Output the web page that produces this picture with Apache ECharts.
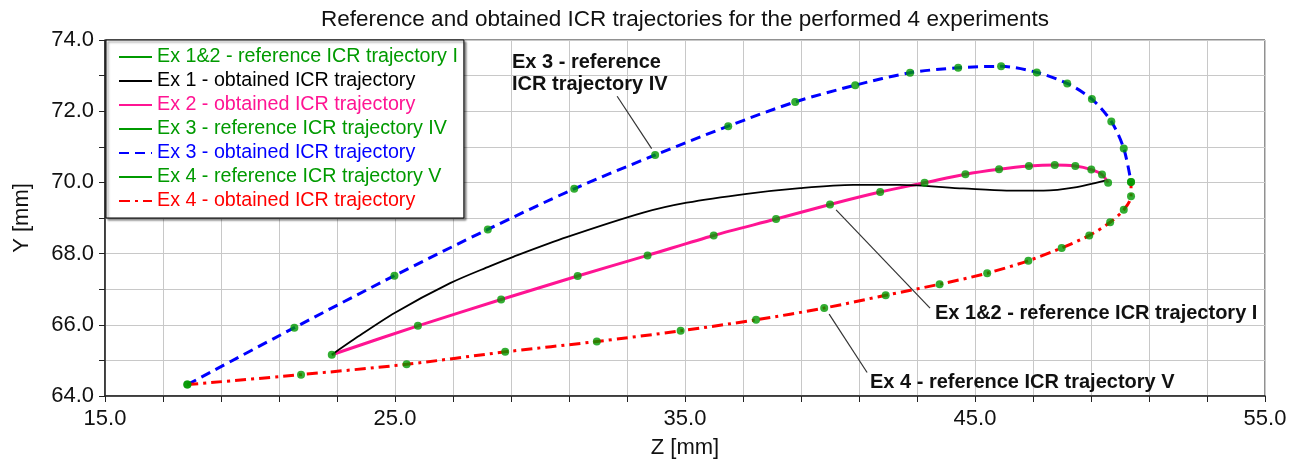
<!DOCTYPE html>
<html>
<head>
<meta charset="utf-8">
<script src="https://cdn.jsdelivr.net/npm/echarts@6/dist/echarts.min.js"></script>
<style>
  html, body { margin: 0; padding: 0; background: #fff; }
  #chart { width: 1298px; height: 464px; }
</style>
</head>
<body>
<div id="chart"></div>
<script>
// [z, y] pairs in mm
var refI = [[22.82,65.16],[25.79,65.97],[28.66,66.71],[31.3,67.37],[33.71,67.95],[35.99,68.51],[38.14,68.97],[40.0,69.38],[41.73,69.73],[43.26,69.99],[44.67,70.23],[45.83,70.37],[46.86,70.46],[47.75,70.49],[48.46,70.46],[49.01,70.36],[49.38,70.22],[49.59,69.99]];
var refIV = [[17.84,64.32],[21.53,65.92],[24.98,67.38],[28.2,68.68],[31.18,69.82],[33.97,70.77],[36.49,71.58],[38.8,72.26],[40.87,72.73],[42.76,73.08],[44.42,73.22],[45.9,73.26],[47.13,73.09],[48.18,72.78],[49.03,72.34],[49.7,71.71],[50.13,70.95],[50.38,70.01]];
var refV = [[17.84,64.32],[21.76,64.6],[25.4,64.89],[28.8,65.24],[31.96,65.53],[34.85,65.83],[37.45,66.14],[39.8,66.47],[41.92,66.83],[43.78,67.14],[45.42,67.45],[46.84,67.8],[47.99,68.16],[48.94,68.51],[49.66,68.88],[50.13,69.23],[50.38,69.61],[50.38,70.01]];
var ex1Obtained = [[22.82,65.16],[23.6,65.6],[25.0,66.34],[26.9,67.17],[28.28,67.65],[29.08,67.91],[30.92,68.46],[33.56,69.15],[35.06,69.43],[37.13,69.68],[38.97,69.84],[40.8,69.93],[42.41,69.93],[44.6,69.83],[46.09,69.77],[47.36,69.77],[48.51,69.87],[49.48,70.05]];
// ex 2-4 obtained trajectories lie on their reference points
var ex2Obtained = refI;
var ex3Obtained = refIV;
var ex4Obtained = refV;

var zLabels = [15, 25, 35, 45, 55];
var yLabels = [64, 66, 68, 70, 72, 74];

var seriesNames = [
  'Ex 1&2 - reference ICR trajectory I',
  'Ex 1 - obtained ICR trajectory',
  'Ex 2 - obtained ICR trajectory',
  'Ex 3 - reference ICR trajectory IV',
  'Ex 3 - obtained ICR trajectory',
  'Ex 4 - reference ICR trajectory V',
  'Ex 4 - obtained ICR trajectory'
];

// annotation arrows: [from, to] in data coords
var arrows = [
  [[32.66, 72.42], [33.85, 70.95]],
  [[43.45, 66.47], [40.21, 69.23]],
  [[41.28, 64.66], [39.97, 66.3]]
];

var FONT = '"Liberation Sans", Arial, sans-serif';
var GREEN = '#009a00';
var legendColors = [GREEN, '#000000', '#ff1493', GREEN, '#0000ff', GREEN, '#ff0000'];

var chart = echarts.init(document.getElementById('chart'));

// reference series: legend entry only (thin green line), points drawn as dots
function refLine(name) {
  return {
    name: name, type: 'line', data: [], symbol: 'none', z: 1,
    lineStyle: { color: GREEN, width: 1 }, itemStyle: { color: GREEN }
  };
}
function dots(data) {
  return {
    name: 'dots', type: 'scatter', data: data, symbol: 'circle', symbolSize: 8, z: 4,
    itemStyle: { color: GREEN }
  };
}

var option = {
  animation: false,
  title: {
    text: 'Reference and obtained ICR trajectories for the performed 4 experiments',
    left: 680,
    textAlign: 'center',
    top: 3,
    textStyle: { fontFamily: FONT, fontSize: 22.5, fontWeight: 'normal', color: '#111' }
  },
  grid: {
    left: 105, right: 33, top: 40, bottom: 63,
    show: true, borderColor: '#222', borderWidth: 1
  },
  legend: {
    orient: 'vertical',
    left: 106, top: 40,
    selectedMode: false,
    backgroundColor: '#fff',
    borderColor: '#000', borderWidth: 1,
    shadowColor: 'rgba(0,0,0,0.45)', shadowBlur: 2, shadowOffsetX: 2, shadowOffsetY: 2,
    padding: [7, 6, 7, 12],
    itemGap: 4,
    itemWidth: 33, itemHeight: 12,
    itemStyle: { opacity: 0 },
    textStyle: { fontFamily: FONT, fontSize: 19.7 },
    data: seriesNames.map(function (n, i) {
      return { name: n, textStyle: { color: legendColors[i] } };
    })
  },
  xAxis: {
    type: 'value', min: 15, max: 55, interval: 2,
    name: 'Z [mm]', nameLocation: 'middle', nameGap: 41,
    nameTextStyle: { fontFamily: FONT, fontSize: 22, color: '#111' },
    axisLine: { show: true, lineStyle: { color: '#222', width: 1.5 } },
    axisTick: { show: true, length: 6, lineStyle: { color: '#222' } },
    axisLabel: {
      fontFamily: FONT, fontSize: 22, color: '#111', margin: 12,
      showMinLabel: true, showMaxLabel: true,
      formatter: function (v) { return zLabels.indexOf(v) >= 0 ? v.toFixed(1) : ''; }
    },
    splitLine: { show: true, lineStyle: { color: '#c8c8c8', width: 1 } }
  },
  yAxis: {
    type: 'value', min: 64, max: 74, interval: 1,
    name: 'Y [mm]', nameLocation: 'middle', nameGap: 72,
    nameTextStyle: { fontFamily: FONT, fontSize: 22, color: '#111' },
    axisLine: { show: true, lineStyle: { color: '#222', width: 1.5 } },
    axisTick: { show: true, length: 6, lineStyle: { color: '#222' } },
    axisLabel: {
      fontFamily: FONT, fontSize: 22, color: '#111', margin: 11,
      showMinLabel: true, showMaxLabel: true,
      formatter: function (v) { return yLabels.indexOf(v) >= 0 ? v.toFixed(1) : ''; }
    },
    splitLine: { show: true, lineStyle: { color: '#c8c8c8', width: 1 } }
  },
  graphic: [
    { type: 'text', left: 512, top: 51, z: 10,
      style: { text: 'Ex 3 - reference\nICR trajectory IV', fontFamily: FONT, fontSize: 20, fontWeight: 'bold', fill: '#111', lineHeight: 22 } },
    { type: 'text', left: 935, top: 303, z: 10,
      style: { text: 'Ex 1&2 - reference ICR trajectory I', fontFamily: FONT, fontSize: 20, fontWeight: 'bold', fill: '#111' } },
    { type: 'text', left: 870, top: 372, z: 10,
      style: { text: 'Ex 4 - reference ICR trajectory V', fontFamily: FONT, fontSize: 20, fontWeight: 'bold', fill: '#111' } }
  ],
  series: [
    refLine(seriesNames[0]),
    {
      name: seriesNames[1], type: 'line', data: ex1Obtained, symbol: 'none', smooth: 0.3, z: 3,
      lineStyle: { color: '#000', width: 1.8 }, itemStyle: { color: '#000' },
      markLine: {
        silent: true, symbol: ['none', 'arrow'], symbolSize: [0, 11],
        label: { show: false },
        lineStyle: { color: '#333', width: 1.2, type: 'solid' },
        data: arrows.map(function (a) { return [{ coord: a[0] }, { coord: a[1] }]; })
      }
    },
    {
      name: seriesNames[2], type: 'line', data: ex2Obtained, symbol: 'none', smooth: 0.3, z: 2,
      lineStyle: { color: '#ff1493', width: 3 }, itemStyle: { color: '#ff1493' }
    },
    refLine(seriesNames[3]),
    {
      name: seriesNames[4], type: 'line', data: ex3Obtained, symbol: 'none', smooth: 0.3, z: 2,
      lineStyle: { color: '#0000ff', width: 3, type: [10, 6] }, itemStyle: { color: '#0000ff' }
    },
    refLine(seriesNames[5]),
    {
      name: seriesNames[6], type: 'line', data: ex4Obtained, symbol: 'none', smooth: 0.3, z: 2,
      lineStyle: { color: '#ff0000', width: 3, type: [11, 5, 3, 5] }, itemStyle: { color: '#ff0000' }
    },
    dots(refI),
    dots(refIV),
    dots(refV)
  ]
};

chart.setOption(option);
</script>
</body>
</html>
